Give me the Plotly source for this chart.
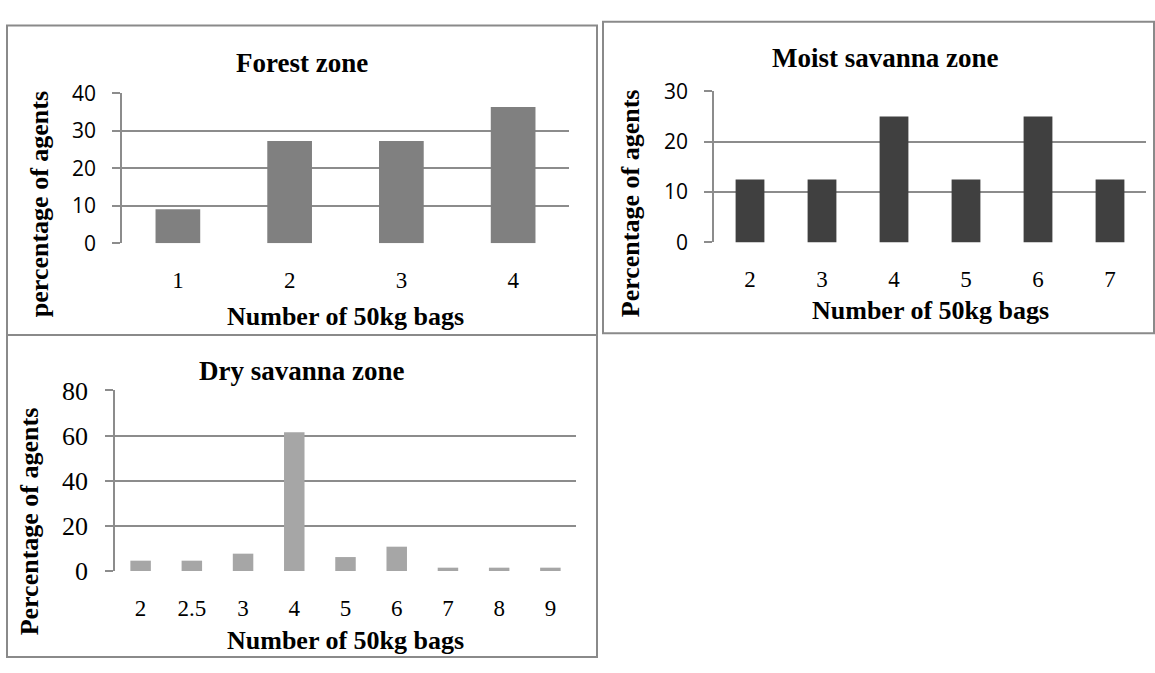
import plotly.graph_objects as go

# ---- data ----
forest_bags = ["1", "2", "3", "4"]
forest_pct = [9.09, 27.27, 27.27, 36.36]

moist_bags = ["2", "3", "4", "5", "6", "7"]
moist_pct = [12.5, 12.5, 25.0, 12.5, 25.0, 12.5]

dry_bags = ["2", "2.5", "3", "4", "5", "6", "7", "8", "9"]
dry_pct = [4.6, 4.6, 7.7, 61.5, 6.2, 10.8, 1.5, 1.5, 1.5]

W, H = 1155, 673
SERIF = "Liberation Serif, Times New Roman, serif"
SANS = "Open Sans, Liberation Sans, sans-serif"
GRID = "#8c8c8c"
BORDER = "#8a8a8a"


def px(x):
    return x / W


def py(y):
    return 1 - y / H


fig = go.Figure()
fig.add_trace(go.Bar(x=forest_bags, y=forest_pct, marker_color="#808080",
                     marker_line_width=0, xaxis="x", yaxis="y"))
fig.add_trace(go.Bar(x=moist_bags, y=moist_pct, marker_color="#404040",
                     marker_line_width=0, xaxis="x2", yaxis="y2"))
fig.add_trace(go.Bar(x=dry_bags, y=dry_pct, marker_color="#a6a6a6",
                     marker_line_width=0, xaxis="x3", yaxis="y3"))


def xaxis(domain, anchor, standoff=21):
    return dict(domain=domain, anchor=anchor, type="category",
                showgrid=False, zeroline=False, showline=False,
                ticks="", ticklabelstandoff=standoff,
                tickfont=dict(family=SERIF, size=23, color="black"))


def yaxis(domain, anchor, rng, dtick, font, size):
    return dict(domain=domain, anchor=anchor, range=rng, dtick=dtick,
                showgrid=True, gridcolor=GRID, gridwidth=1.6,
                zeroline=False, showline=True, linecolor=GRID, linewidth=1.6,
                ticks="outside", ticklen=8, tickcolor=GRID, tickwidth=1.6,
                ticklabelstandoff=12,
                tickfont=dict(family=font, size=size, color="black"))


fig.update_layout(
    width=W, height=H,
    margin=dict(l=0, r=0, t=0, b=0),
    paper_bgcolor="white", plot_bgcolor="white",
    showlegend=False, bargap=0.6,
    xaxis=xaxis([px(122), px(569)], "y"),
    yaxis=yaxis([py(239), py(82)], "x", [0, 40], 10, SANS, 21),
    xaxis2=xaxis([px(714), px(1146)], "y2"),
    yaxis2=yaxis([py(238), py(80)], "x2", [0, 30], 10, SANS, 21),
    xaxis3=xaxis([px(115), px(576)], "y3"),
    yaxis3=yaxis([py(582), py(393)], "x3", [0, 80], 20, SERIF, 26),
)

# panel frames
for x0, y0, x1, y1 in [(7, 11, 597, 335), (603, 7, 1154, 333), (7, 335, 597, 672)]:
    fig.add_shape(type="rect", xref="paper", yref="paper",
                  x0=px(x0), x1=px(x1), y0=py(y1), y1=py(y0),
                  line=dict(color=BORDER, width=2), fillcolor="rgba(0,0,0,0)")


def label(text, x, y, size, angle=0):
    fig.add_annotation(text=f"<b>{text}</b>", xref="paper", yref="paper",
                       x=px(x), y=py(y), xanchor="center", yanchor="middle",
                       showarrow=False, textangle=angle,
                       font=dict(family=SERIF, size=size, color="black"))


XT = "Number of 50kg bags"

label("Forest zone", 302, 50, 27)
label(XT, 345, 316, 26)
label("percentage of agents", 39, 198, 26, -90)

label("Moist savanna zone", 885, 45, 27)
label(XT, 930, 309, 26)
label("Percentage of agents", 630, 197, 26, -90)

label("Dry savanna zone", 302, 373, 27)
label(XT, 345, 655, 26)
label("Percentage of agents", 29, 530, 26, -90)

fig.write_html("out.html")
